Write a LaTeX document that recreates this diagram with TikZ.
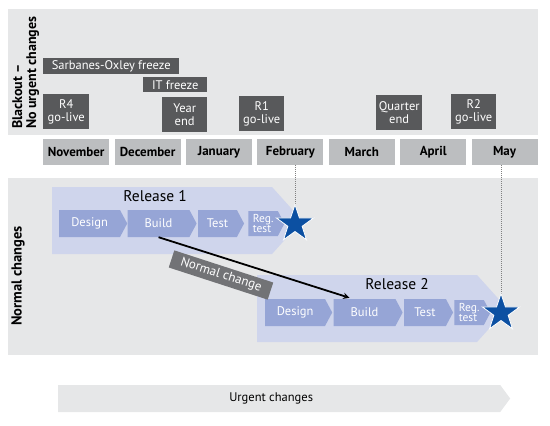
\documentclass[tikz,border=0pt]{standalone}
\usepackage{fontspec}
\setmainfont{PT Sans}
\usetikzlibrary{shapes.geometric, shapes.symbols, positioning, calc}

\definecolor{panelgray}{HTML}{E6E7E8}
\definecolor{monthgray}{HTML}{BCBEC0}
\definecolor{darkbox}{HTML}{58595B}
\definecolor{bandblue}{HTML}{CFD5EC}
\definecolor{stageblue}{HTML}{96A5D6}
\definecolor{starblue}{HTML}{0C50A2}
\definecolor{labelgray}{HTML}{727376}

\begin{document}
\begin{tikzpicture}[
    x=1pt, y=-1pt,
    node distance=5pt and 5pt,
    month/.style={rectangle, fill=monthgray, minimum width=66pt, minimum height=26pt, inner sep=0pt, font=\fontsize{13}{15}\selectfont\bfseries},
    event/.style={rectangle, fill=darkbox, text=white, inner sep=0pt, align=center, anchor=north west, font=\fontsize{12.5}{13.5}\selectfont},
    band/.style={signal, signal to=east, signal pointer angle=96, fill=bandblue, minimum width=250pt, minimum height=67pt, inner sep=0pt, anchor=west},
    stage/.style={signal, signal to=east, signal pointer angle=124, fill=stageblue, text=white, minimum height=27pt, inner sep=0pt, font=\fontsize{12.5}{14}\selectfont},
    regtest/.style={stage, minimum height=25pt, minimum width=36pt, align=left, font=\fontsize{11.5}{9.5}\selectfont},
    milestone/.style={star, star points=5, star point ratio=2.6, fill=starblue, draw=white, line width=0.8pt, minimum size=39pt, inner sep=0pt},
    vlabel/.style={rotate=90, font=\fontsize{14}{14}\selectfont\bfseries, align=left, inner sep=0pt},
    arrow/.style={->, >=stealth, line width=1.8pt}
]
\useasboundingbox (0,0) rectangle (550,426);

% panels
\fill[panelgray] (8,9) rectangle (538,135);
\fill[panelgray] (8,178) rectangle (538,355);

\node[vlabel, anchor=north west] (blackout) at (12,129) {Blackout --\\No urgent changes};
\node[vlabel, font=\fontsize{14.5}{15}\selectfont\bfseries] (normal) at (18,276) {Normal changes};

% months
\node (nov) [month, anchor=west] at (43,152) {November};
\node (dec) [month, right=of nov] {December};
\node (jan) [month, right=of dec] {January};
\node (feb) [month, right=of jan] {February};
\node (mar) [month, right=of feb] {March};
\node (apr) [month, right=of mar] {April};
\node (may) [month, right=of apr] {May};

% blackout events
\node (sox) [event, minimum width=136pt, minimum height=16pt] at (43,58) {Sarbanes-Oxley freeze};
\node (itf) [event, minimum width=64pt, minimum height=15pt] at (143,77) {IT freeze};
\node (rfour) [event, minimum width=46pt, minimum height=35pt] at (43,94) {R4\\go-live};
\node (yend) [event, minimum width=45pt, minimum height=35pt] at (162,97) {Year\\end};
\node (rone) [event, minimum width=45pt, minimum height=35pt] at (239,96) {R1\\go-live};
\node (qend) [event, minimum width=46pt, minimum height=35pt] at (376,95) {Quarter\\end};
\node (rtwo) [event, minimum width=45pt, minimum height=35pt] at (451,94) {R2\\go-live};

% release 1
\node (relone) [band, label={[anchor=north, xshift=-7pt, font=\fontsize{15.5}{17}\selectfont]north:Release 1}] at (52,220.5) {};
\node (done) [stage, minimum width=68pt, anchor=west] at (59,223.5) {Design};
\node (bone) [stage, minimum width=69pt, right=0pt of done] {Build};
\node (tone) [stage, minimum width=46pt, right=1pt of bone] {Test};
\node (gone) [regtest, right=4pt of tone] {Reg.\\test};

% release 2
\node (reltwo) [band, label={[anchor=north, xshift=30pt, font=\fontsize{15.5}{17}\selectfont]north:Release 2}] at (257,308.5) {};
\node (dtwo) [stage, minimum width=67pt, anchor=west] at (265,312.5) {Design};
\node (btwo) [stage, minimum width=69pt, right=1pt of dtwo] {Build};
\node (ttwo) [stage, minimum width=49pt, right=1pt of btwo] {Test};
\node (gtwo) [regtest, right=1pt of ttwo] {Reg.\\test};

% go-live stars
\coordinate (sone) at (295,224);
\coordinate (stwo) at (501,313);
\draw[densely dotted, gray, line width=1pt] (sone |- feb.south) -- (sone);
\draw[densely dotted, gray, line width=1pt] (stwo |- may.south) -- (stwo);
\node (starone) [milestone] at (sone) {};
\node (startwo) [milestone] at (stwo) {};

% normal change
\draw[arrow] (bone.south) -- ($(btwo.north)+(-15,-1)$);
\node (nchange) [fill=labelgray, text=white, rotate=-18, minimum width=104pt, minimum height=18pt, inner sep=0pt, font=\fontsize{13}{14}\selectfont] at (221,275) {Normal change};

% urgent changes
\node (urgent) [signal, signal to=east, signal pointer angle=107, fill=panelgray, minimum width=452pt, minimum height=27pt, inner sep=0pt, anchor=west, label={[xshift=-8pt, font=\fontsize{12.5}{14}\selectfont]center:Urgent changes}] at (58,398.5) {};
\end{tikzpicture}
\end{document}
